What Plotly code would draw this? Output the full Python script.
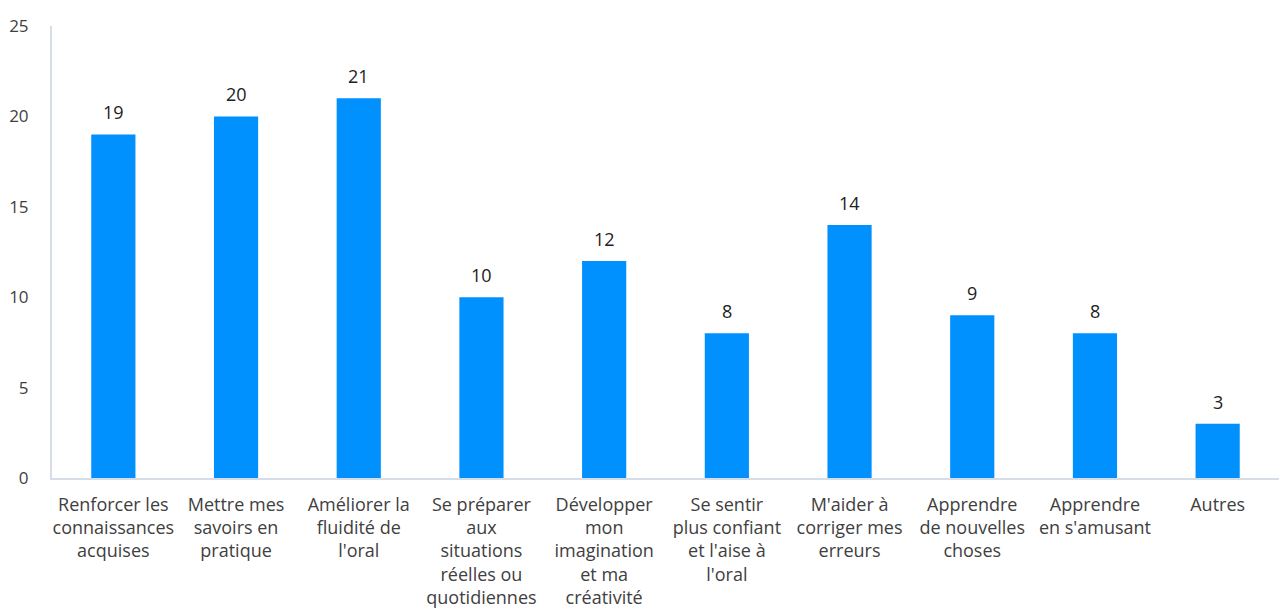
import plotly.graph_objects as go

categories = [
    "Renforcer les<br>connaissances<br>acquises",
    "Mettre mes<br>savoirs en<br>pratique",
    "Améliorer la<br>fluidité de<br>l'oral",
    "Se préparer<br>aux<br>situations<br>réelles ou<br>quotidiennes",
    "Développer<br>mon<br>imagination<br>et ma<br>créativité",
    "Se sentir<br>plus confiant<br>et l'aise à<br>l'oral",
    "M'aider à<br>corriger mes<br>erreurs",
    "Apprendre<br>de nouvelles<br>choses",
    "Apprendre<br>en s'amusant",
    "Autres",
]
values = [19, 20, 21, 10, 12, 8, 14, 9, 8, 3]
y_ticks = [0, 5, 10, 15, 20, 25]

FONT = "Open Sans"
TEXT = "#404040"

fig = go.Figure(
    go.Bar(
        x=categories,
        y=values,
        marker=dict(color="#0091FF", line=dict(width=0)),
        cliponaxis=False,
        hoverinfo="skip",
    )
)

for c, v in zip(categories, values):
    fig.add_annotation(
        x=c, y=v, text=str(v), showarrow=False,
        yanchor="bottom", yshift=8,
        font=dict(family=FONT, size=18, color="#222222"),
    )

fig.update_layout(
    width=1281,
    height=612,
    margin=dict(l=52, r=2, t=26, b=134, autoexpand=False),
    paper_bgcolor="white",
    plot_bgcolor="white",
    bargap=0.64,
    showlegend=False,
    font=dict(family=FONT, size=16, color=TEXT),
)
fig.update_xaxes(
    automargin=False,
    showline=True,
    linecolor="#D6DCE8",
    linewidth=2,
    showgrid=False,
    ticks="outside",
    ticklen=9,
    tickcolor="rgba(0,0,0,0)",
    tickangle=0,
    tickfont=dict(family=FONT, size=18, color=TEXT),
)
fig.update_yaxes(
    automargin=False,
    range=[0, 25],
    tickvals=y_ticks,
    showline=True,
    linecolor="#D6DCE8",
    linewidth=2,
    showgrid=False,
    zeroline=False,
    ticks="outside",
    ticklen=18,
    tickcolor="rgba(0,0,0,0)",
    tickfont=dict(family=FONT, size=17, color=TEXT),
)

fig.write_html(
    "out.html",
    config={"displayModeBar": False},
    post_script="document.body.style.margin='0';document.body.style.overflow='hidden';",
)
